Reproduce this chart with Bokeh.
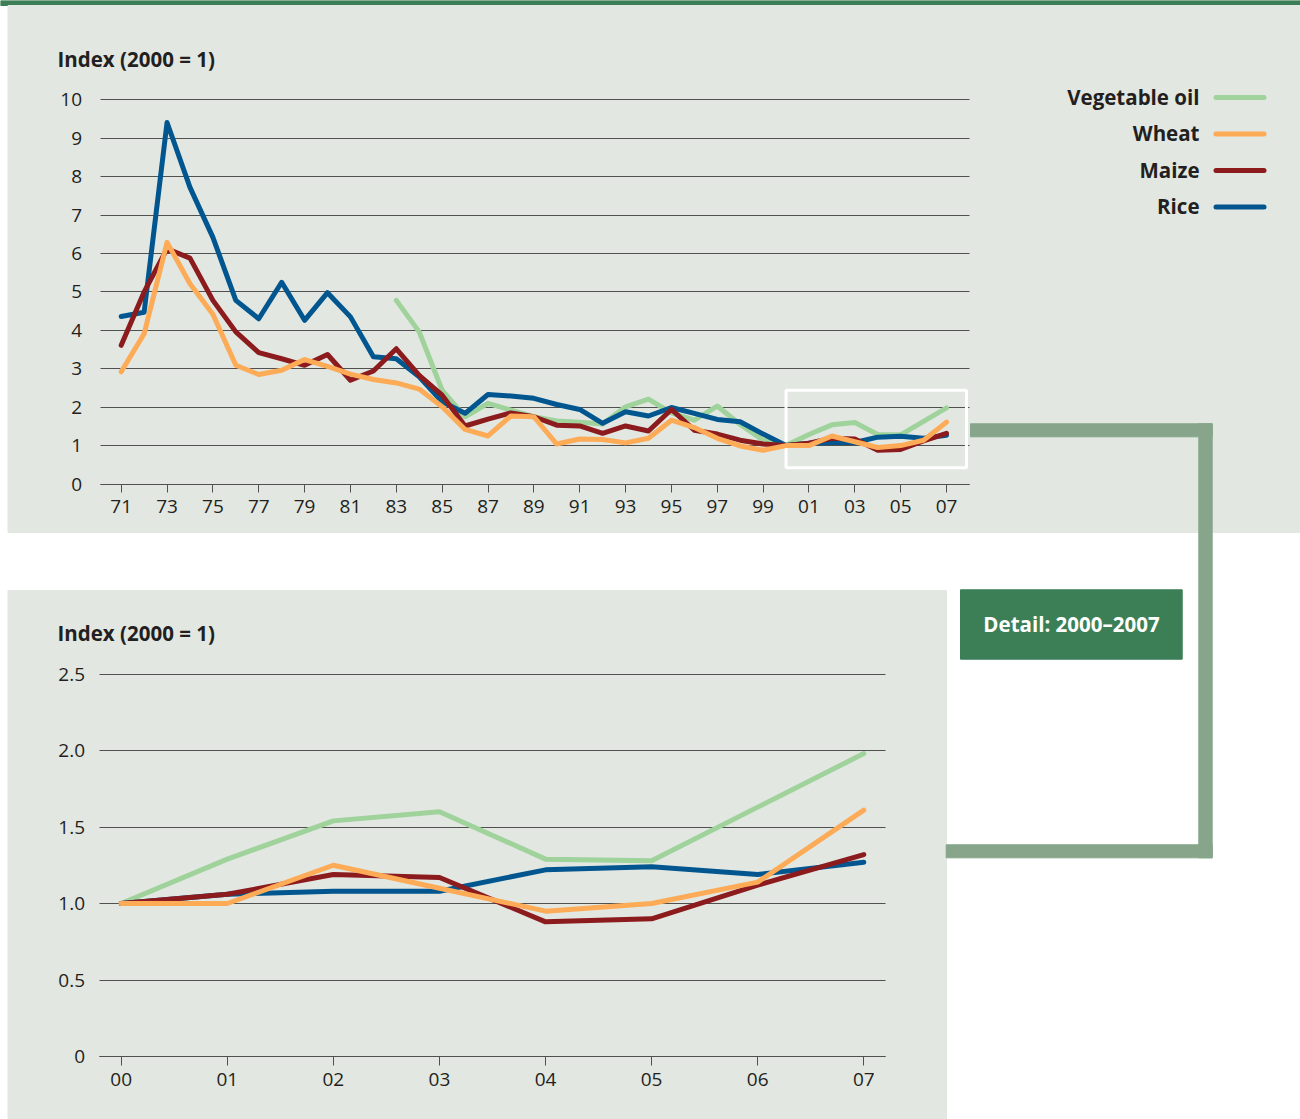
from bokeh.plotting import figure
from bokeh.models import (Range1d, FixedTicker, LinearAxis, Grid,
                          CustomJSTickFormatter)
from bokeh.core.properties import value
from bokeh.embed import file_html
from bokeh.resources import INLINE

# ---------------- data ----------------
years = list(range(1971, 2008))
veg_years = list(range(1983, 2008))

rice = [4.36, 4.47, 9.41, 7.72, 6.42, 4.78, 4.30, 5.25, 4.26, 4.98,
        4.35, 3.31, 3.26, 2.79, 2.14, 1.84, 2.33, 2.29, 2.23, 2.07,
        1.94, 1.58, 1.88, 1.77, 1.99, 1.84, 1.68, 1.62, 1.30, 1.00,
        1.06, 1.08, 1.08, 1.22, 1.24, 1.19, 1.27]
maize = [3.61, 5.00, 6.12, 5.88, 4.78, 3.96, 3.42, 3.26, 3.09, 3.37,
         2.70, 2.94, 3.52, 2.83, 2.31, 1.51, 1.69, 1.85, 1.75, 1.53,
         1.51, 1.32, 1.51, 1.38, 1.94, 1.40, 1.30, 1.14, 1.04, 1.00,
         1.06, 1.19, 1.17, 0.88, 0.90, 1.12, 1.32]
wheat = [2.92, 3.91, 6.29, 5.21, 4.42, 3.09, 2.85, 2.96, 3.24, 3.06,
         2.86, 2.72, 2.63, 2.47, 2.01, 1.42, 1.25, 1.77, 1.75, 1.04,
         1.17, 1.16, 1.07, 1.19, 1.66, 1.47, 1.19, 0.99, 0.88, 1.00,
         1.00, 1.25, 1.10, 0.95, 1.00, 1.14, 1.61]
veg_oil = [4.78, 3.96, 2.44, 1.75, 2.10, 1.92, 1.75, 1.64, 1.61, 1.56,
           2.01, 2.21, 1.85, 1.66, 2.03, 1.55, 1.14, 1.00, 1.29, 1.54,
           1.60, 1.29, 1.28, 1.63, 1.98]

series_names = ["Vegetable oil", "Wheat", "Maize", "Rice"]
series_colors = ["#9fd39b", "#fdab57", "#8c1b1e", "#01568f"]

top_xticks = list(range(1971, 2008, 2))
top_yticks = list(range(0, 11))
detail_years = list(range(2000, 2008))
detail_yticks = [0, 0.5, 1.0, 1.5, 2.0, 2.5]

y_title = "Index (2000 = 1)"
detail_title = "Detail: 2000\u20132007"

# ---------------- styles ----------------
W, H = 1300, 1119
BG = "#e2e7e1"
TXT = "#231f20"
GRID = "#505050"
DARK_GREEN = "#3c7f57"
CONNECT = "#87a58a"
FONT = "Open Sans"

series = {
    "Vegetable oil": (veg_years, veg_oil),
    "Wheat": (years, wheat),
    "Maize": (years, maize),
    "Rice": (years, rice),
}
draw_order = ["Vegetable oil", "Rice", "Maize", "Wheat"]
color_of = dict(zip(series_names, series_colors))


def make_map(pa, va, pb, vb):
    k = (vb - va) / (pb - pa)
    return lambda px: va + (px - pa) * k


# pixel anchors of the two charts (layout only)
tx = make_map(120.7, 1971, 946.0, 2007)
ty = make_map(483.5, 0, 99.3, 10)
bx = make_map(120.7, 2000, 863.3, 2007)
by = make_map(1056.0, 0, 750.0, 2.0)

p = figure(width=W, height=H, x_range=Range1d(0, W), y_range=Range1d(H, 0),
           output_backend="svg", toolbar_location=None, title=None,
           x_axis_location=None, y_axis_location=None, min_border=0,
           background_fill_color="white", border_fill_color="white",
           outline_line_color=None)
# drop any default grids
p.center = [r for r in p.center if not isinstance(r, Grid)]
p.extra_x_ranges = {"tx": Range1d(tx(0), tx(W)), "bx": Range1d(bx(0), bx(W))}
p.extra_y_ranges = {"ty": Range1d(ty(H), ty(0)), "by": Range1d(by(H), by(0))}

# ---------------- background panels ----------------
p.quad(left=[0], right=[W], top=[0], bottom=[5], color=DARK_GREEN, level="image")
p.quad(left=[7.5], right=[W], top=[5], bottom=[532], color=BG, level="image")
p.quad(left=[7.5], right=[946], top=[590], bottom=[H], color=BG, level="image")

year_fmt = CustomJSTickFormatter(code="return String(tick % 100).padStart(2, '0');")
has_cross = "cross_bounds" in Grid.properties()


def chart(xn, yn, xmap, x_px, xticks, yticks, yfmt, y_standoff, tick_out, x_standoff):
    x0, x1 = xmap(x_px[0]), xmap(x_px[1])
    xa = LinearAxis(x_range_name=xn, y_range_name=yn, fixed_location=0,
                    bounds=(x0, x1), ticker=FixedTicker(ticks=xticks),
                    formatter=year_fmt, axis_line_color=GRID, axis_line_width=1,
                    major_tick_line_color=GRID, major_tick_in=0,
                    major_tick_out=tick_out, minor_tick_line_color=None,
                    major_label_standoff=x_standoff,
                    major_label_text_font=FONT, major_label_text_font_size="19px",
                    major_label_text_color=TXT)
    p.add_layout(xa, "below")
    ya = LinearAxis(x_range_name=xn, y_range_name=yn, fixed_location=x0,
                    bounds=(0, max(yticks)), ticker=FixedTicker(ticks=yticks),
                    formatter=yfmt, axis_line_color=None,
                    major_tick_line_color=None, minor_tick_line_color=None,
                    major_label_standoff=y_standoff,
                    major_label_text_font=FONT, major_label_text_font_size="19px",
                    major_label_text_color=TXT)
    p.add_layout(ya, "left")
    if has_cross:
        g = Grid(dimension=1, ticker=FixedTicker(ticks=yticks), x_range_name=xn,
                 y_range_name=yn, bounds=(0, max(yticks)), cross_bounds=(x0, x1),
                 grid_line_color=GRID, grid_line_width=1)
        p.add_layout(g, "center")
    else:
        p.segment(x0=[x0] * len(yticks), x1=[x1] * len(yticks), y0=yticks,
                  y1=yticks, x_range_name=xn, y_range_name=yn,
                  line_color=GRID, line_width=1, level="underlay")
    return x0, x1


# ---------------- top chart ----------------
chart("tx", "ty", tx, (99.5, 969), top_xticks, top_yticks,
      CustomJSTickFormatter(code="return String(tick);"), 12, 8, 8)

detail_vals = []
for name in series_names:
    xs, ys = series[name]
    detail_vals += [v for x, v in zip(xs, ys) if detail_years[0] <= x <= detail_years[-1]]
pad = 0.46
p.quad(left=[detail_years[0]], right=[detail_years[-1] + 0.87],
       bottom=[min(detail_vals) - pad], top=[max(detail_vals) + pad],
       fill_color=None, line_color="white", line_width=3,
       x_range_name="tx", y_range_name="ty")

for name in draw_order:
    xs, ys = series[name]
    p.line(xs, ys, line_color=color_of[name], line_width=5,
           line_join="round", line_cap="round",
           x_range_name="tx", y_range_name="ty")

# ---------------- detail chart ----------------
chart("bx", "by", bx, (98.5, 885), detail_years, detail_yticks,
      CustomJSTickFormatter(code="return tick == 0 ? '0' : tick.toFixed(1);"),
      8, 9, 7)
for name in draw_order:
    xs, ys = series[name]
    dx = [x for x in xs if x >= detail_years[0]]
    dy = [v for x, v in zip(xs, ys) if x >= detail_years[0]]
    p.line(dx, dy, line_color=color_of[name], line_width=5,
           line_join="round", line_cap="round",
           x_range_name="bx", y_range_name="by")

# ---------------- titles ----------------
p.text(x=[57, 57], y=[58, 632], text=[y_title, y_title], text_font=value(FONT),
       text_font_size="20.5px", text_font_style="bold", text_color=TXT,
       text_align="left", text_baseline="middle")

# ---------------- legend ----------------
leg_y = [97 + 36.5 * i for i in range(len(series_names))]
p.text(x=[1199] * len(series_names), y=[y - 1 for y in leg_y], text=series_names,
       text_font=value(FONT), text_font_size="20.5px", text_font_style="bold",
       text_color=TXT, text_align="right", text_baseline="middle")
p.segment(x0=[1215.5] * len(series_names), x1=[1263.5] * len(series_names),
          y0=leg_y, y1=leg_y, line_color=series_colors, line_width=5,
          line_cap="round")

# ---------------- connector & detail tag ----------------
p.quad(left=[970, 1198.3, 945.7], right=[1211.7, 1211.7, 1211.7],
       top=[423.3, 423.3, 844.3], bottom=[436.3, 857.3, 857.3], color=CONNECT)
p.quad(left=[960], right=[1181.7], top=[589.3], bottom=[658.7], color=DARK_GREEN)
p.text(x=[1071], y=[623], text=[detail_title], text_font=value(FONT),
       text_font_size="20.5px", text_font_style="bold", text_color="white",
       text_align="center", text_baseline="middle")

open("out.html", "w").write(file_html(p, INLINE))
